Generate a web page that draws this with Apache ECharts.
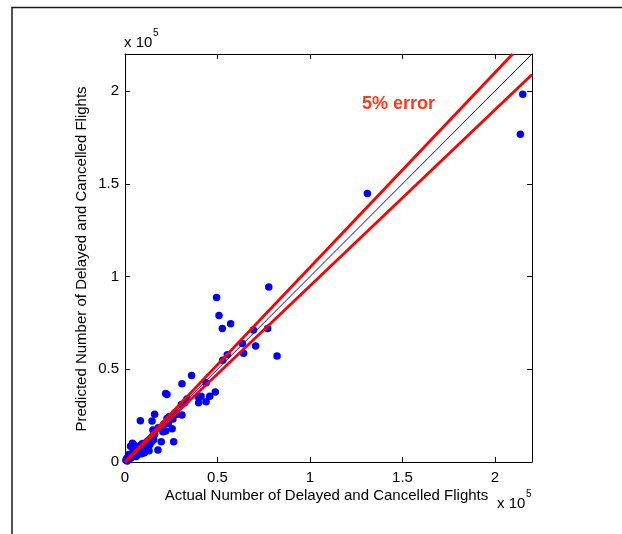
<!DOCTYPE html>
<html>
<head>
<meta charset="utf-8">
<script src="https://cdn.jsdelivr.net/npm/echarts@6/dist/echarts.min.js"></script>
<style>
html,body{margin:0;padding:0;background:#fff;}
#chart{width:622px;height:534px;}
</style>
</head>
<body>
<div id="chart"></div>
<script>
// Actual vs predicted number of delayed and cancelled flights
const actual = [
  215000, 213700, 131000, 77700, 49500, 50800, 57100, 52600, 69400, 77100,
  63400, 70600, 64100, 82200, 55300, 52800, 36000, 30800, 43800, 22000,
  22700, 48800, 39500, 41100, 45800, 39800, 43800, 32300, 30800, 28000,
  25900, 16000, 8300, 14600, 22700, 20500, 22000, 15100, 19600, 26300,
  17800, 4000, 23400, 25500, 27000, 24000, 21000, 18000, 30500, 33500,
  500, 1000, 1200, 2000, 2500, 3000, 3500, 4000, 4500, 5000,
  5500, 6000, 6500, 7000, 7500, 8000, 8500, 9000, 9500, 10000,
  10500, 11000, 11500, 12000, 12500, 13000, 13500, 14000, 14500, 15000,
  15500, 16000, 5000, 2000, 6000, 7000, 9000, 10000, 13000, 8300, 3000
];
const predicted = [
  198300, 176700, 144800, 94300, 88700, 79000, 74600, 72000, 71200, 72000,
  63900, 62500, 58700, 57200, 57800, 54900, 46600, 42200, 42700, 37000,
  36400, 37700, 35200, 35500, 35500, 31900, 32500, 31900, 25300, 25700,
  23200, 25700, 22200, 22100, 23500, 16300, 16700, 17200, 10900, 10900,
  6500, 10100, 20800, 17900, 26500, 24500, 20500, 18500, 31000, 34000,
  1000, 2000, 500, 1500, 3000, 2000, 4500, 3000, 5500, 4000,
  6000, 5000, 7000, 5500, 8000, 6500, 9000, 7500, 10000, 8500,
  5000, 10000, 7000, 11000, 8000, 12000, 9500, 13000, 11000, 14000,
  12000, 15000, 9000, 4000, 3000, 4000, 4500, 6000, 6000, 7500, 8500
];
// reference lines: perfect prediction and +/-5% error band (end points)
const idealX = [0, 220000];
const idealY = [0, 220000];
const upperX = [0, 209524];
const upperY = [0, 220000];
const lowerX = [0, 220000];
const lowerY = [0, 209000];
const tickValues = [0, 50000, 100000, 150000, 200000];
const axisMin = 0, axisMax = 220000, axisStep = 50000;

const pts = actual.map((a, i) => [a, predicted[i]]);
const pair = (xs, ys) => xs.map((x, i) => [x, ys[i]]);
const fmt = v => tickValues.indexOf(v) >= 0 ? String(v / 100000) : '';

const FONT = '"Liberation Sans", Arial, sans-serif';
const G = {left: 125, top: 54, width: 407, height: 408};

function baseAxis(extra) {
  return Object.assign({
    type: 'value', min: axisMin, max: axisMax, interval: axisStep,
    axisLine: {show: true, onZero: false, lineStyle: {color: '#000', width: 1}},
    axisTick: {show: true, inside: true, length: 5, lineStyle: {color: '#000', width: 1}},
    splitLine: {show: false},
    axisLabel: {show: false}
  }, extra);
}

function lineSeries(data, color, width, z) {
  return {type: 'line', xAxisIndex: 0, yAxisIndex: 0, data: data, symbol: 'none', showSymbol: false,
    smooth: false, lineStyle: {color: color, width: width}, itemStyle: {color: color},
    emphasis: {disabled: true}, silent: true, z: z};
}

const chart = echarts.init(document.getElementById('chart'), null, {renderer: 'canvas'});
chart.setOption({
  animation: false,
  backgroundColor: '#fff',
  tooltip: {show: false},
  grid: {left: G.left, top: G.top, width: G.width, height: G.height, containLabel: false},
  xAxis: [
    baseAxis({position: 'bottom', axisLabel: {show: true, formatter: fmt, color: '#000', fontSize: 15, fontFamily: FONT, margin: 8, showMaxLabel: false}}),
    baseAxis({position: 'top'})
  ],
  yAxis: [
    baseAxis({position: 'left', axisLabel: {show: true, formatter: fmt, color: '#000', fontSize: 15, fontFamily: FONT, margin: 6, showMaxLabel: false}}),
    baseAxis({position: 'right'})
  ],
  series: [
    {type: 'scatter', xAxisIndex: 0, yAxisIndex: 0, data: pts, symbol: 'circle', symbolSize: 7.5,
     itemStyle: {color: '#0000FF', opacity: 1}, emphasis: {disabled: true}, silent: true, z: 2},
    lineSeries(pair(idealX, idealY), '#0000FF', 1, 3),
    lineSeries(pair(upperX, upperY), '#FF0000', 2.8, 4),
    lineSeries(pair(lowerX, lowerY), '#FF0000', 2.8, 4)
  ],
  graphic: [
    {type: 'rect', shape: {x: 12, y: 7.5, width: 700, height: 600}, style: {fill: null, stroke: '#1a1a1a', lineWidth: 1.5}, silent: true, z: 0},
    {type: 'text', x: 124, y: 43, style: {text: 'x 10', font: '15px ' + FONT, fill: '#000', textVerticalAlign: 'middle'}},
    {type: 'text', x: 153, y: 33, style: {text: '5', font: '10px ' + FONT, fill: '#000', textVerticalAlign: 'middle'}},
    {type: 'text', x: 497, y: 504, style: {text: 'x 10', font: '15px ' + FONT, fill: '#000', textVerticalAlign: 'middle'}},
    {type: 'text', x: 526, y: 494, style: {text: '5', font: '10px ' + FONT, fill: '#000', textVerticalAlign: 'middle'}},
    {type: 'text', x: 326.5, y: 496, style: {text: 'Actual Number of Delayed and Cancelled Flights', font: '15px ' + FONT, fill: '#000', textAlign: 'center', textVerticalAlign: 'middle'}},
    {type: 'text', x: 82, y: 259, rotation: Math.PI / 2, style: {text: 'Predicted Number of Delayed and Cancelled Flights', font: '15px ' + FONT, fill: '#000', textAlign: 'center', textVerticalAlign: 'middle'}},
    {type: 'text', x: 398.5, y: 104, style: {text: '5% error', font: 'bold 18px ' + FONT, fill: '#FF3A1A', textAlign: 'center', textVerticalAlign: 'middle'}}
  ]
});
</script>
</body>
</html>
